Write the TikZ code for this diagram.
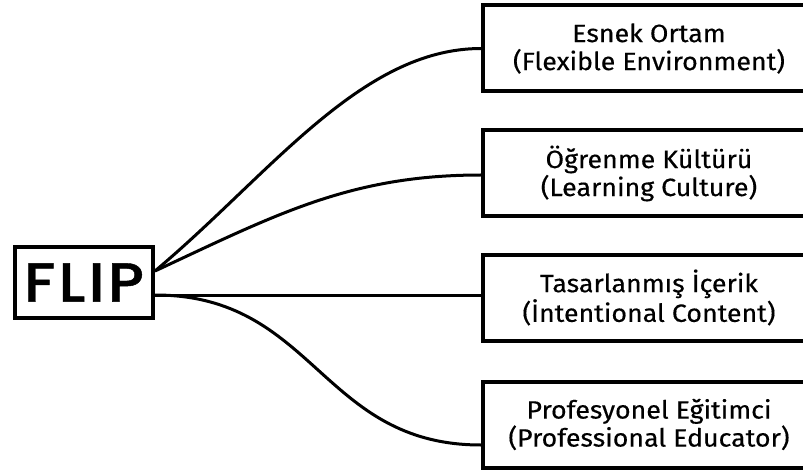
\documentclass[tikz,border=0pt]{standalone}
\usepackage{fontspec}
\setmainfont{Fira Sans}[FakeStretch=1.07, UprightFeatures={FakeBold=0.4}]
\newfontfamily\flipfont{Poppins Medium}[FakeStretch=1.1, LetterSpace=6, UprightFeatures={FakeBold=0.8}]
\begin{document}
\begin{tikzpicture}[x=1pt,y=-1pt,
  pillar/.style={draw=black, line width=4pt, fill=white, inner sep=0pt,
    minimum width=332pt, minimum height=86pt, align=center,
    font=\fontsize{25}{28}\selectfont, text=black},
  flipbox/.style={draw=black, line width=4pt, inner sep=0pt,
    minimum width=138pt, minimum height=71pt,
    font=\flipfont\fontsize{55}{55}\selectfont},
  link/.style={draw=black, line width=3pt}]
\useasboundingbox (0,0) rectangle (803,473);
\clip (0,0) rectangle (803,473);

% central concept
\node[flipbox] (flip) at (84,282.5) {FLIP};

% the four pillars
\node[pillar] (p1) at (649,48.5) {Esnek Ortam\\(Flexible Environment)};
\node[pillar] (p2) at (649,173.5) {Öğrenme Kültürü\\(Learning Culture)};
\node[pillar] (p3) at (649,297.5) {Tasarlanmış İçerik\\(İntentional Content)};
\node[pillar] (p4) at (649,424.5) {Profesyonel Eğitimci\\(Professional Educator)};

% connectors
\coordinate (fa) at ([yshift=11.5pt]flip.east);
\coordinate (fb) at ([yshift=-12.5pt]flip.east);
\draw[link] (fa) .. controls +(-40:150) and +(-120,0) .. (p1.west);
\draw[link] (fa) .. controls +(-25:135) and +(-130,0) .. ([yshift=-1.5pt]p2.west);
\draw[link] (fb) -- ([yshift=2.5pt]p3.west);
\draw[link] (fb) .. controls +(160,0) and +(-160,0) .. ([yshift=-20.5pt]p4.west);
\end{tikzpicture}
\end{document}
